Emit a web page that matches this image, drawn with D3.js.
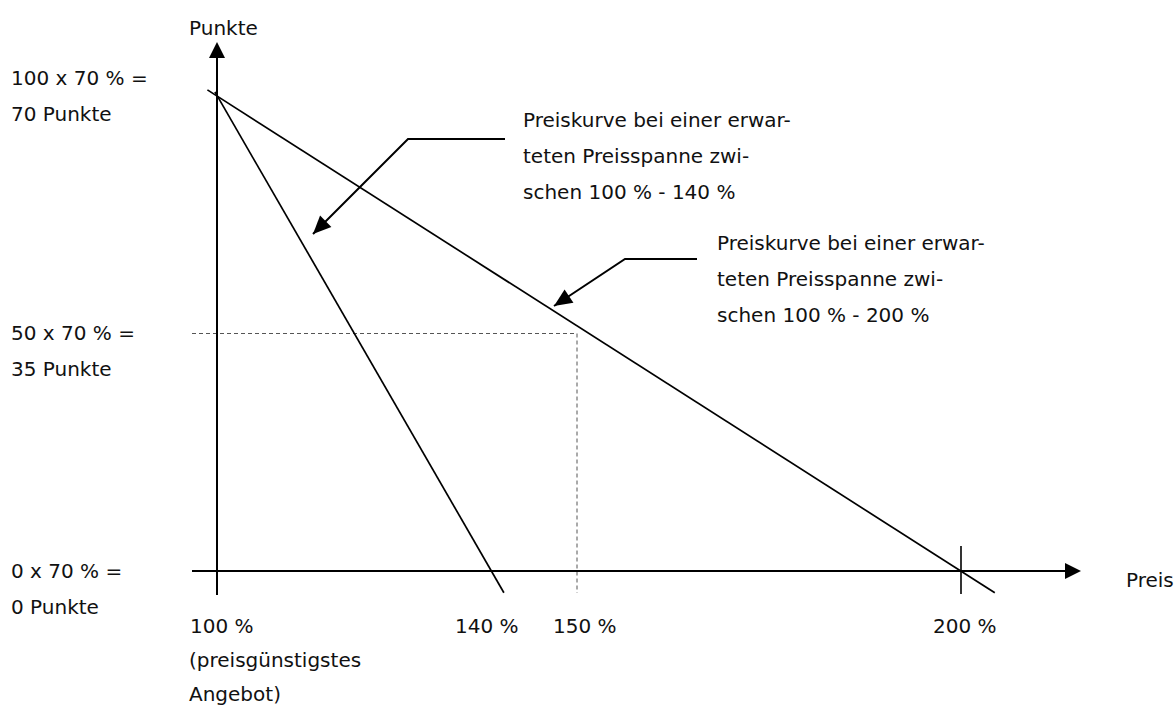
<!DOCTYPE html>
<html>
<head>
<meta charset="utf-8">
<script src="https://cdn.jsdelivr.net/npm/d3@7"></script>
<style>
  body { margin: 0; background: #fff; }
  text { font-family: "DejaVu Sans", sans-serif; font-size: 20px; fill: #111; }
</style>
</head>
<body>
<div id="chart"></div>
<script>
// tick values on the price axis (drawing is not to scale, so each gets its own stop)
let priceTicks = [100, 140, 150, 200]
let priceTickLabels = ["100 %", "140 %", "150 %", "200 %"]
let priceTickSub = ["(preisgünstigstes", "Angebot)"]

// point levels on the vertical axis
let pointLevels = [70, 35, 0]
let pointLabels = [
    ["100 x 70 % =", "70 Punkte"],
    ["50 x 70 % =", "35 Punkte"],
    ["0 x 70 % =", "0 Punkte"]
]

let curveWide = [[98.6, 70.9], [204.4, -3.2]]
let curveNarrow = [[99.7, 70.6], [141.5, -3.2]]

// guide point on the wide curve
let guidePoint = [150, 35]

let noteNarrow = ["Preiskurve bei einer erwar-", "teten Preisspanne zwi-", "schen 100 % - 140 %"]
let noteWide = ["Preiskurve bei einer erwar-", "teten Preisspanne zwi-", "schen 100 % - 200 %"]

let width = 1176
let height = 709
let lineGap = 36

let svg = d3.select("#chart")
    .append("svg")
    .attr("width", width)
    .attr("height", height)

let xScale = d3.scaleLinear()
    .domain(priceTicks)
    .range([217, 491, 577, 961])

let yScale = d3.scaleLinear()
    .domain([0, 70])
    .range([571, 96])

let x0 = xScale(100)
let y0 = yScale(0)

function arrowHead(tipX, tipY, angle, len, half){
    // angle = direction the arrow points to
    let bx = tipX - len * Math.cos(angle)
    let by = tipY - len * Math.sin(angle)
    let px = -Math.sin(angle) * half
    let py = Math.cos(angle) * half
    return `M${tipX},${tipY}L${bx + px},${by + py}L${bx - px},${by - py}Z`
}

// dashed guide lines for 150 % / 35 Punkte
svg.append("path")
    .attr("d", `M192,${yScale(guidePoint[1])}H${xScale(guidePoint[0])}V593`)
    .attr("fill", "none")
    .attr("stroke", "#555")
    .attr("stroke-width", 1)
    .attr("stroke-dasharray", "4,3")

// axes
svg.append("line")
    .attr("x1", x0).attr("x2", x0)
    .attr("y1", 595).attr("y2", 56)
    .attr("stroke", "#000").attr("stroke-width", 2)

svg.append("path")
    .attr("d", arrowHead(x0, 42, -Math.PI / 2, 16, 8))
    .attr("fill", "#000")

svg.append("line")
    .attr("x1", 192).attr("x2", 1066)
    .attr("y1", y0).attr("y2", y0)
    .attr("stroke", "#000").attr("stroke-width", 2)

svg.append("path")
    .attr("d", arrowHead(1081, y0, 0, 16, 8))
    .attr("fill", "#000")

// tick mark at 200 %
svg.append("line")
    .attr("x1", xScale(200)).attr("x2", xScale(200))
    .attr("y1", 546).attr("y2", 594)
    .attr("stroke", "#000").attr("stroke-width", 1.6)

// curves
let line = d3.line()
    .x(function(d){ return xScale(d[0]) })
    .y(function(d){ return yScale(d[1]) })

svg.selectAll(".curve")
    .data([curveWide, curveNarrow])
    .enter()
    .append("path")
    .attr("class", "curve")
    .attr("d", line)
    .attr("fill", "none")
    .attr("stroke", "#000")
    .attr("stroke-width", 1.7)

// callout arrows
function callout(points){
    svg.append("path")
        .attr("d", d3.line()(points))
        .attr("fill", "none")
        .attr("stroke", "#000")
        .attr("stroke-width", 2)
    let a = points[points.length - 2]
    let b = points[points.length - 1]
    let ang = Math.atan2(b[1] - a[1], b[0] - a[0])
    svg.append("path")
        .attr("d", arrowHead(b[0], b[1], ang, 18, 8))
        .attr("fill", "#000")
}
callout([[505, 139], [408, 139], [313, 234]])
callout([[697, 259], [625, 259], [554, 306]])

function noteBlock(lines, x, y, gap){
    svg.append("g")
        .selectAll("text")
        .data(lines)
        .enter()
        .append("text")
        .attr("x", x)
        .attr("y", function(d, i){ return y + i * (gap || lineGap) })
        .text(function(d){ return d })
}
noteBlock(noteNarrow, 523, 127)
noteBlock(noteWide, 717, 250)

// axis titles
svg.append("text").attr("x", 189).attr("y", 35).text("Punkte")
svg.append("text").attr("x", 1126).attr("y", 587).text("Preis")

// left labels
let labelOffset = [-11, 6, 7]
pointLevels.forEach(function(v, i){
    noteBlock(pointLabels[i], 11, yScale(v) + labelOffset[i])
})

// price tick labels
let tickDx = [-27, -36, -24, -28]
svg.selectAll(".tickLabel")
    .data(priceTicks)
    .enter()
    .append("text")
    .attr("class", "tickLabel")
    .attr("x", function(d, i){ return xScale(d) + tickDx[i] })
    .attr("y", 633)
    .text(function(d, i){ return priceTickLabels[i] })

noteBlock(priceTickSub, 189, 667, 34)
</script>
</body>
</html>
